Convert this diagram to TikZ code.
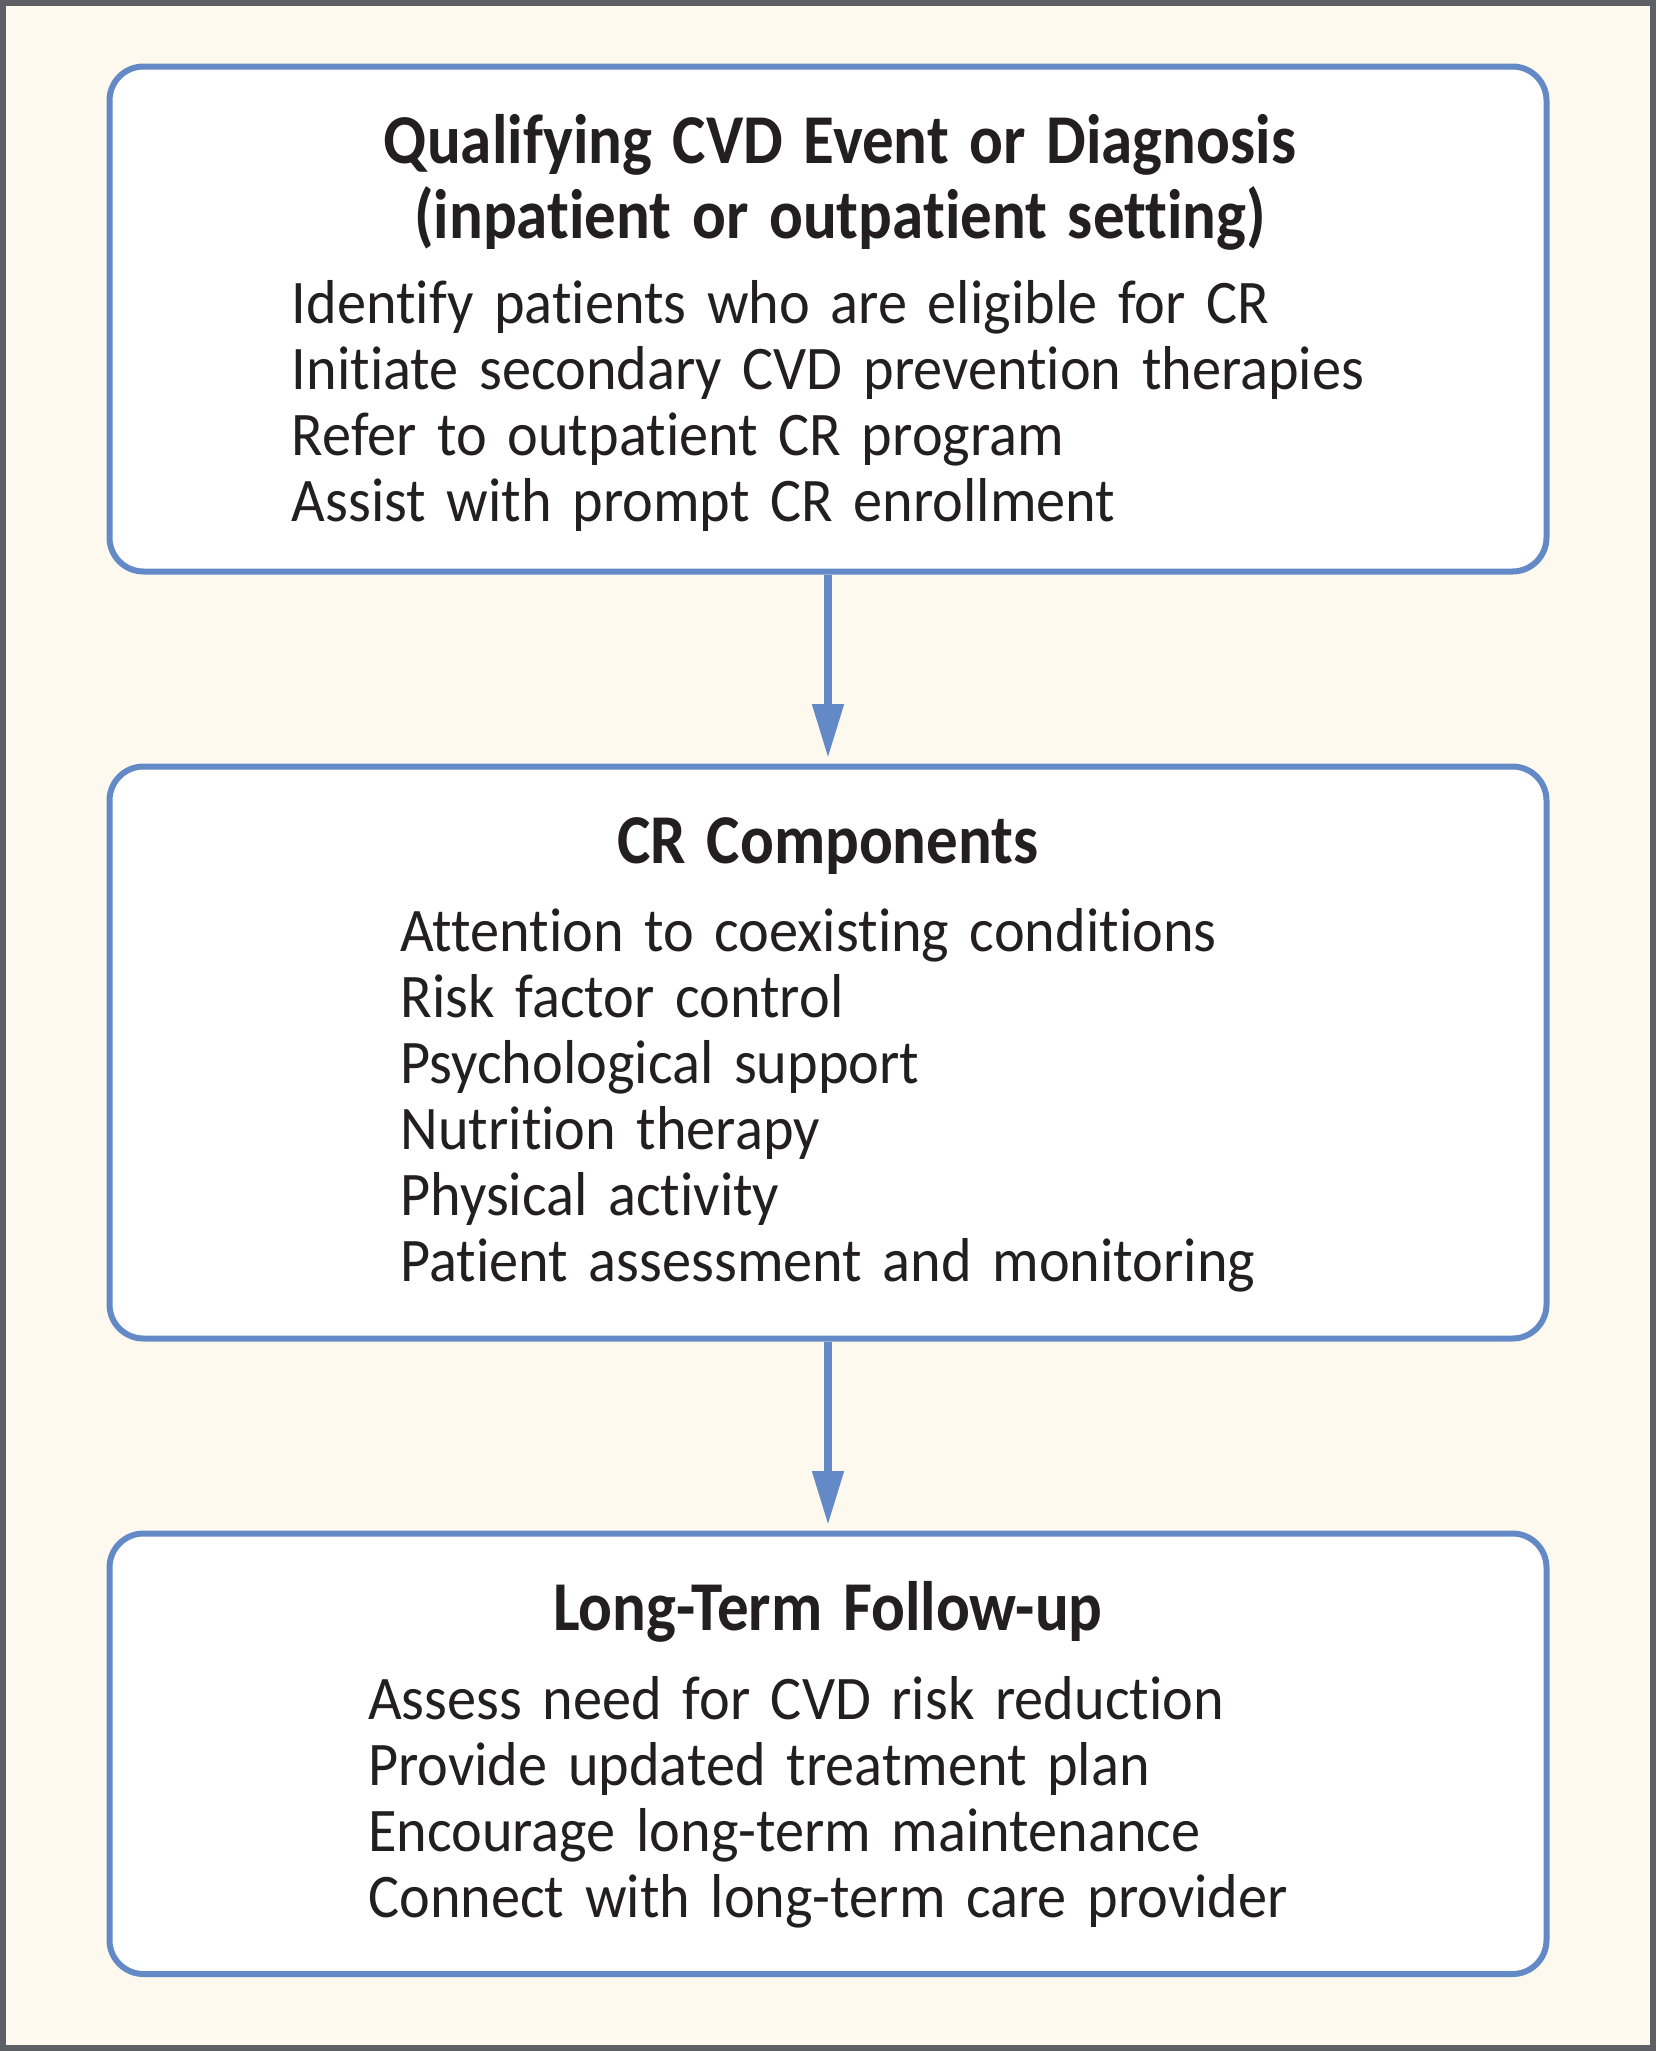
\documentclass[tikz,border=0pt]{standalone}
\usepackage{fontspec}
\setmainfont{Carlito}[Ligatures=NoCommon, FakeStretch=0.94]
\newfontfamily\headfont{Carlito}[Ligatures=NoCommon, FakeStretch=0.90]
\usetikzlibrary{positioning,arrows.meta}

\definecolor{stageblue}{RGB}{99,138,198}
\definecolor{cream}{RGB}{254,249,238}
\definecolor{framegray}{RGB}{94,95,100}
\definecolor{inkdark}{RGB}{35,31,32}

\begin{document}
\begin{tikzpicture}[>={Triangle[length=27pt,width=15pt]},
        node distance=94.5pt,
        stage/.style={draw=stageblue, line width=3pt, rounded corners=17pt, fill=white, text=inkdark,
          align=center, text width=718.5pt, inner xsep=0pt, inner ysep=0pt, text height=48.25pt,
          font=\fontsize{31pt}{33pt}\selectfont},
        flow/.style={->, draw=stageblue, line width=4pt, shorten >=2.75pt}]
        \useasboundingbox (0,0) rectangle (828pt,-1025.5pt);
        \fill[cream] (0,0) rectangle (828pt,-1025.5pt);
        \draw[framegray, line width=3pt] (1.5pt,-1.5pt) rectangle (826.5pt,-1024pt);

        \node[stage, text depth=204.25pt, anchor=north] (QE) at (414pt,-31.75pt)
          {{\headfont\fontsize{35pt}{37.5pt}\selectfont\bfseries \hspace*{12pt}Qualifying CVD Event or Diagnosis\\\hspace*{12pt}(inpatient or outpatient setting)\par}
           \vspace{9.5pt}
           \begin{tabular}[t]{@{}l@{}}Identify patients who are eligible for CR\\Initiate secondary CVD prevention therapies\\Refer to outpatient CR program\\Assist with prompt CR enrollment\end{tabular}};
        \node[stage, text depth=237.75pt, below=of QE] (CRC)
          {{\headfont\fontsize{35pt}{37.5pt}\selectfont\bfseries CR Components\par}
           \vspace{11pt}
           \begin{tabular}[t]{@{}l@{}}Attention to coexisting conditions\\Risk factor control\\Psychological support\\Nutrition therapy\\Physical activity\\Patient assessment and monitoring\end{tabular}};
        \node[stage, text depth=172pt, below=of CRC] (LTF)
          {{\headfont\fontsize{35pt}{37.5pt}\selectfont\bfseries Long-Term Follow-up\par}
           \vspace{11.5pt}
           \begin{tabular}[t]{@{}l@{}}Assess need for CVD risk reduction\\Provide updated treatment plan\\Encourage long-term maintenance\\Connect with long-term care provider\end{tabular}};

        \draw[flow] (QE) -- (CRC);
        \draw[flow] (CRC) -- (LTF);
\end{tikzpicture}
\end{document}
